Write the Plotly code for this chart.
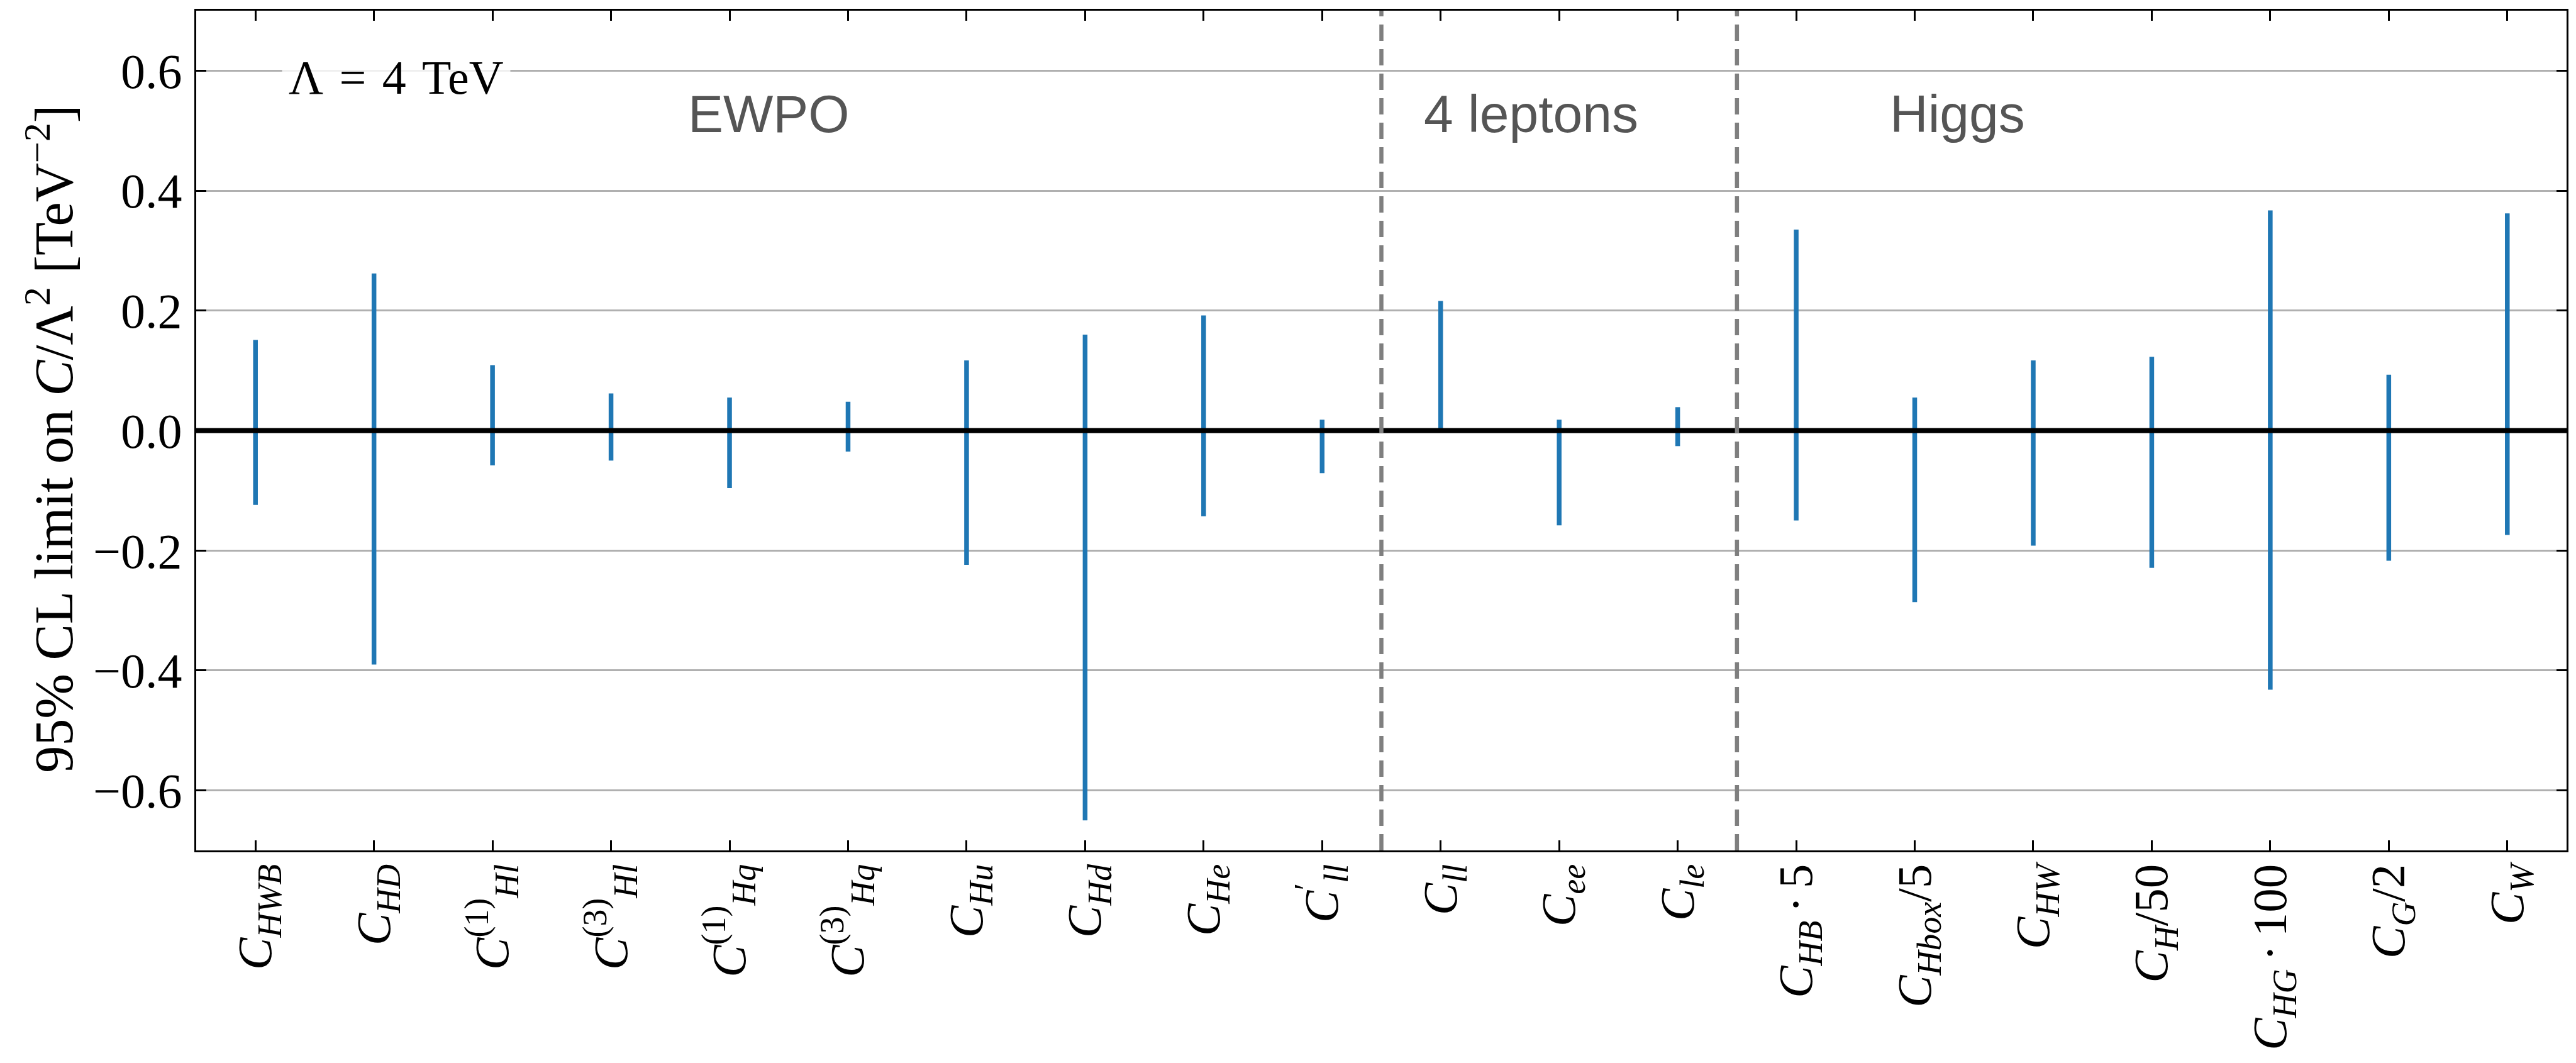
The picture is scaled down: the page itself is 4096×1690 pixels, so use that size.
import plotly.graph_objects as go

# ---- data -------------------------------------------------------------
labels = [
    "<i>C</i><sub><i>HWB</i></sub>",
    "<i>C</i><sub><i>HD</i></sub>",
    "<i>C</i><sup>(1)</sup><sub><i>Hl</i></sub>",
    "<i>C</i><sup>(3)</sup><sub><i>Hl</i></sub>",
    "<i>C</i><sup>(1)</sup><sub><i>Hq</i></sub>",
    "<i>C</i><sup>(3)</sup><sub><i>Hq</i></sub>",
    "<i>C</i><sub><i>Hu</i></sub>",
    "<i>C</i><sub><i>Hd</i></sub>",
    "<i>C</i><sub><i>He</i></sub>",
    "<i>C</i><sup>′</sup><sub><i>ll</i></sub>",
    "<i>C</i><sub><i>ll</i></sub>",
    "<i>C</i><sub><i>ee</i></sub>",
    "<i>C</i><sub><i>le</i></sub>",
    "<i>C</i><sub><i>HB</i></sub>\u2006·\u20065",
    "<i>C</i><sub><i>Hbox</i></sub>/5",
    "<i>C</i><sub><i>HW</i></sub>",
    "<i>C</i><sub><i>H</i></sub>/50",
    "<i>C</i><sub><i>HG</i></sub>\u2006·\u2006100",
    "<i>C</i><sub><i>G</i></sub>/2",
    "<i>C</i><sub><i>W</i></sub>",
]
lower = [-0.124, -0.390, -0.058, -0.050, -0.096, -0.035, -0.224, -0.650, -0.143, -0.071,
         -0.003, -0.158, -0.026,
         -0.150, -0.286, -0.192, -0.229, -0.432, -0.217, -0.174]
upper = [0.151, 0.262, 0.109, 0.062, 0.055, 0.048, 0.117, 0.160, 0.192, 0.018,
         0.216, 0.018, 0.039,
         0.335, 0.055, 0.117, 0.123, 0.367, 0.093, 0.362]
group_names = ["EWPO", "4 leptons", "Higgs"]
yticks = [-0.6, -0.4, -0.2, 0.0, 0.2, 0.4, 0.6]
ytick_text = [f"{v:.1f}".replace("-", "\u2212") for v in yticks]

SERIF = "Liberation Serif, Times New Roman, serif"
SANS = "Liberation Sans, Arial, Helvetica, sans-serif"

# ---- segments ---------------------------------------------------------
xs, ys = [], []
for lab, lo, hi in zip(labels, lower, upper):
    xs += [lab, lab, None]
    ys += [lo, hi, None]

fig = go.Figure()
fig.add_trace(go.Scatter(
    x=xs, y=ys, mode="lines",
    line=dict(color="#1f77b4", width=7.5),
    hoverinfo="skip", showlegend=False, connectgaps=False,
))

# zero line
fig.add_hline(y=0, line=dict(color="black", width=8), layer="above")
# group separators
for xv in [9.5, 12.5]:
    fig.add_vline(x=xv, line=dict(color="#7f7f7f", width=6.5, dash="26px,13px"), layer="above")

# ---- annotations -----------------------------------------------------
fig.add_annotation(
    x=1.19, y=0.589, xref="x", yref="y",
    text="Λ\u2004=\u20044\u2004TeV", showarrow=False,
    font=dict(family=SERIF, size=76, color="black"),
    bgcolor="rgba(255,255,255,0.8)", borderpad=10,
    xanchor="center", yanchor="middle",
)
for name, xv in zip(group_names, [3.64, 9.85, 13.78]):
    fig.add_annotation(
        x=xv, y=0.528, xref="x", yref="y", text=name, showarrow=False,
        font=dict(family=SANS, size=84, color="#555555"),
        xanchor="left", yanchor="middle",
    )

# y-axis title as rotated annotation
fig.add_annotation(
    x=-0.0616, y=0.49, xref="paper", yref="paper",
    text="95% CL limit on <i>C</i>/Λ<sup>2</sup> [TeV<sup>−2</sup>]",
    textangle=-90, showarrow=False,
    font=dict(family=SERIF, size=86, color="black"),
    xanchor="center", yanchor="middle",
)

# ---- layout ----------------------------------------------------------
fig.update_layout(
    width=4096, height=1690,
    margin=dict(l=312, r=15, t=17, b=338, pad=0, autoexpand=False),
    plot_bgcolor="white", paper_bgcolor="white",
    showlegend=False,
    font=dict(family=SERIF, color="black"),
)
fig.update_xaxes(
    type="category", categoryorder="array", categoryarray=labels,
    range=[-0.5, len(labels) - 0.5],
    tickangle=-90, automargin=False,
    ticks="inside", ticklen=16, tickwidth=3, tickcolor="black",
    showline=True, linewidth=3, linecolor="black", mirror="ticks",
    showgrid=False, zeroline=False,
    tickfont=dict(family=SERIF, size=77, color="black"),
    ticklabelstandoff=-12,
)
fig.update_yaxes(
    range=[-0.7, 0.7], automargin=False,
    tickvals=yticks, ticktext=ytick_text,
    ticks="inside", ticklen=16, tickwidth=3, tickcolor="black",
    showline=True, linewidth=3, linecolor="black", mirror="ticks",
    showgrid=True, gridcolor="#b0b0b0", gridwidth=3,
    zeroline=False,
    tickfont=dict(family=SERIF, size=78, color="black"),
    ticklabelstandoff=4,
)

fig.write_html("out.html")
